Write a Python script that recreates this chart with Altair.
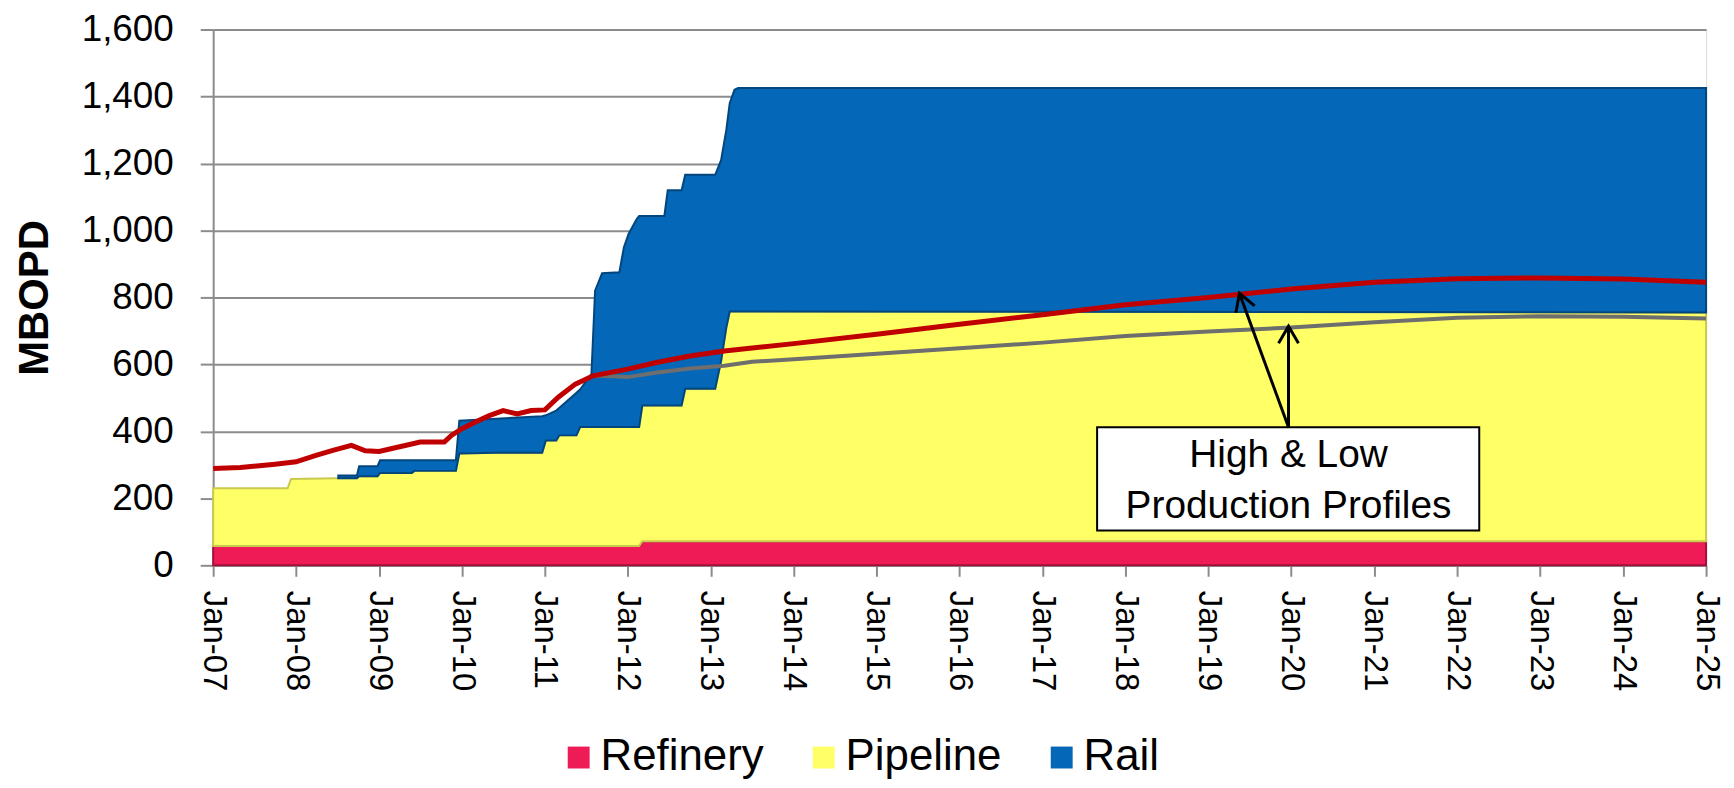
import altair as alt
import pandas as pd

# ---- capacity (stacked areas), MBOPD ----
cap_dates = [
    "2007-01-01", "2007-11-25", "2007-12-10", "2008-06-25", "2008-07-05", "2008-09-25",
    "2008-10-05", "2008-12-25", "2009-01-05", "2009-05-25", "2009-06-05", "2009-12-05",
    "2009-12-20", "2010-06-01", "2010-12-20", "2011-01-05", "2011-02-20", "2011-03-05",
    "2011-05-20", "2011-06-05", "2011-07-25", "2011-08-10", "2011-09-10", "2011-11-25",
    "2011-12-15", "2012-01-05", "2012-02-10", "2012-02-20", "2012-03-05", "2012-06-10",
    "2012-06-25", "2012-08-25", "2012-09-10", "2013-01-20", "2013-02-15", "2013-03-10",
    "2013-03-25", "2013-04-15", "2013-05-01", "2025-01-01",
]
refinery = [58, 58, 58, 58, 58, 58, 58, 58, 58, 58, 58, 58, 58, 58, 58, 58, 58, 58, 58, 58,
            58, 58, 58, 58, 58, 58, 58, 58, 72, 72, 72, 72, 72, 72, 72, 72, 72, 72, 72, 72]
pipeline = [172, 172, 200, 202, 202, 202, 208, 208, 218, 218, 224, 224, 276, 278, 278, 315,
            315, 330, 330, 355, 355, 355, 355, 355, 355, 355, 355, 355, 405, 405, 405, 405,
            455, 455, 538, 638, 686, 686, 686, 683]
rail = [0, 0, 0, 0, 8, 8, 30, 30, 38, 38, 32, 32, 98, 102, 109, 75, 89, 82, 127, 112, 159,
        407, 459, 462, 537, 577, 622, 630, 566, 566, 643, 643, 639, 639, 600, 590, 622, 662,
        667, 670]

series_names = ["Refinery", "Pipeline", "Rail"]
series_colors = ["#EE1B56", "#FFFF66", "#0567B7"]
series_edges = ["#A3103A", "#C9C94E", "#03467E"]

# ---- production profiles ----
high_dates = [
    "2007-01-01", "2007-05-01", "2007-10-01", "2008-01-01", "2008-04-01", "2008-06-15",
    "2008-09-01", "2008-11-01", "2009-01-01", "2009-04-01", "2009-07-01", "2009-10-15",
    "2009-11-15", "2010-01-01", "2010-03-01", "2010-05-01", "2010-07-01", "2010-09-01",
    "2010-11-01", "2011-01-01", "2011-03-01", "2011-05-15", "2011-08-01", "2012-01-01",
    "2012-05-01", "2012-10-01", "2013-03-01", "2014-01-01", "2015-01-01", "2016-01-01",
    "2017-01-01", "2018-01-01", "2019-01-01", "2020-01-01", "2021-01-01", "2022-01-01",
    "2023-01-01", "2024-01-01", "2025-01-01",
]
high_values = [289, 292, 302, 309, 329, 344, 358, 342, 340, 354, 368, 368, 388, 408, 428,
               447, 462, 452, 462, 464, 502, 541, 566, 586, 605, 625, 640, 662, 690, 720,
               748, 778, 800, 825, 845, 856, 858, 855, 845]

low_dates = [
    "2011-08-01", "2011-10-01", "2012-01-01", "2012-05-01", "2012-10-01", "2013-03-01",
    "2013-07-01", "2014-01-01", "2015-01-01", "2016-01-01", "2017-01-01", "2018-01-01",
    "2019-01-01", "2020-01-01", "2021-01-01", "2022-01-01", "2023-01-01", "2024-01-01",
    "2025-01-01",
]
low_values = [566, 565, 562, 575, 588, 596, 608, 615, 632, 648, 665, 685, 698, 710, 726,
              739, 744, 742, 737]

# ---- annotation ----
note_lines = ["High & Low", "Production Profiles"]
note_line_y = [293, 142]
note_x = "2019-12-20"
box_x = ["2017-08-29", "2022-04-08"]
box_y = [104, 412]
arrow_tip_x = ["2019-05-18", "2019-12-20"]
arrow_tip_y = [812, 714]
arrow_angle = [340, 0]

y_ticks = [0, 200, 400, 600, 800, 1000, 1200, 1400, 1600]
x_years = list(range(2007, 2026))

FONT = "Liberation Sans"


def t(s):
    return s + "T00:00:00"


# stacked bands: base/top computed from the per-category capacities
rows = []
for i, d in enumerate(cap_dates):
    base = 0
    for k, (name, arr) in enumerate(zip(series_names, [refinery, pipeline, rail])):
        top = base + arr[i]
        if not (name == "Rail" and arr[i] == 0):  # rail capacity starts mid-2008
            rows.append({"date": t(d), "series": name, "value": arr[i],
                         "base": base, "top": top, "k": k})
        base = top
cap_df = pd.DataFrame(rows)

high_df = pd.DataFrame({"date": [t(d) for d in high_dates], "value": high_values})
low_df = pd.DataFrame({"date": [t(d) for d in low_dates], "value": low_values})

box_df = pd.DataFrame({"x": [t(box_x[0])], "x2": [t(box_x[1])], "y": [box_y[0]], "y2": [box_y[1]]})
note_df = pd.DataFrame({"x": [t(note_x)] * 2, "y": note_line_y, "text": note_lines})
arrow_df = pd.DataFrame({
    "x": [t(note_x)] * 2, "y": [box_y[1]] * 2,
    "x2": [t(d) for d in arrow_tip_x], "y2": arrow_tip_y,
})
head_df = pd.DataFrame({"x": [t(d) for d in arrow_tip_x], "y": arrow_tip_y, "angle": arrow_angle})

x_scale = alt.Scale(domain=[alt.DateTime(year=2007, month=1, date=1),
                            alt.DateTime(year=2025, month=1, date=1)])
y_scale = alt.Scale(domain=[0, 1600], nice=False)

x_axis = alt.Axis(
    values=[alt.DateTime(year=y, month=1, date=1) for y in x_years],
    format="%b-%y", labelAngle=90, labelFontSize=33, labelFont=FONT, labelColor="black",
    tickSize=11, tickWidth=2, tickColor="#8c8c8c", domainColor="#8c8c8c", domainWidth=2,
    labelPadding=14, grid=False, title=None, labelOverlap=False, labelFlush=False,
)
y_axis = alt.Axis(
    values=y_ticks, format=",.0f", labelFontSize=37, labelFont=FONT, labelColor="black",
    tickSize=13, tickWidth=2, tickColor="#8c8c8c", domainColor="#8c8c8c", domainWidth=2,
    gridColor="#8c8c8c", gridWidth=2, labelPadding=27,
    title="MBOPD", titleFont=FONT, titleFontSize=42, titleFontWeight="bold", titleColor="black",
    titleX=-179, titleY=269, titleAngle=270, titleAlign="center", titleBaseline="middle",
)

areas = alt.Chart(cap_df).mark_area(interpolate="linear", opacity=1, strokeWidth=2).encode(
    x=alt.X("date:T", scale=x_scale, axis=x_axis),
    y=alt.Y("top:Q", scale=y_scale, axis=y_axis),
    y2="base:Q",
    color=alt.Color(
        "series:N",
        scale=alt.Scale(domain=series_names, range=series_colors),
        legend=alt.Legend(
            title=None, orient="none", direction="horizontal", legendX=345, legendY=709,
            symbolType="square", symbolSize=484, symbolOpacity=1, symbolStrokeWidth=0,
            labelFont=FONT, labelFontSize=44, labelColor="black", labelOffset=0,
            labelLimit=0, columnPadding=38,
        ),
    ),
    stroke=alt.Stroke("series:N", scale=alt.Scale(domain=series_names, range=series_edges),
                      legend=None),
    order=alt.Order("k:Q", sort="ascending"),
)

low_line = alt.Chart(low_df).mark_line(color="#6E6E6E", strokeWidth=4).encode(
    x="date:T", y="value:Q"
)
high_line = alt.Chart(high_df).mark_line(color="#C00000", strokeWidth=5).encode(
    x="date:T", y="value:Q"
)

box = alt.Chart(box_df).mark_rect(fill="white", stroke="black", strokeWidth=2).encode(
    x="x:T", x2="x2:T", y="y:Q", y2="y2:Q"
)
note = alt.Chart(note_df).mark_text(
    font=FONT, fontSize=39, color="black", align="center", baseline="alphabetic"
).encode(x="x:T", y="y:Q", text="text:N")
shafts = alt.Chart(arrow_df).mark_rule(color="black", strokeWidth=3).encode(
    x="x:T", y="y:Q", x2="x2:T", y2="y2:Q"
)
heads = alt.Chart(head_df).mark_point(
    shape="M -0.5 0.85 L 0 0 L 0.5 0.85", filled=False, stroke="black", strokeWidth=3,
    size=1600, opacity=1,
).encode(x="x:T", y="y:Q", angle=alt.Angle("angle:Q", scale=None))

chart = alt.layer(areas, low_line, high_line, box, note, shafts, heads).properties(
    width=1499, height=538,
    autosize=alt.AutoSizeParams(type="none"),
    padding={"left": 206, "top": 20, "right": 20, "bottom": 220},
).configure_view(stroke=None).configure(background="white")

chart.save("out.html", embed_options={"renderer": "svg", "actions": False})
